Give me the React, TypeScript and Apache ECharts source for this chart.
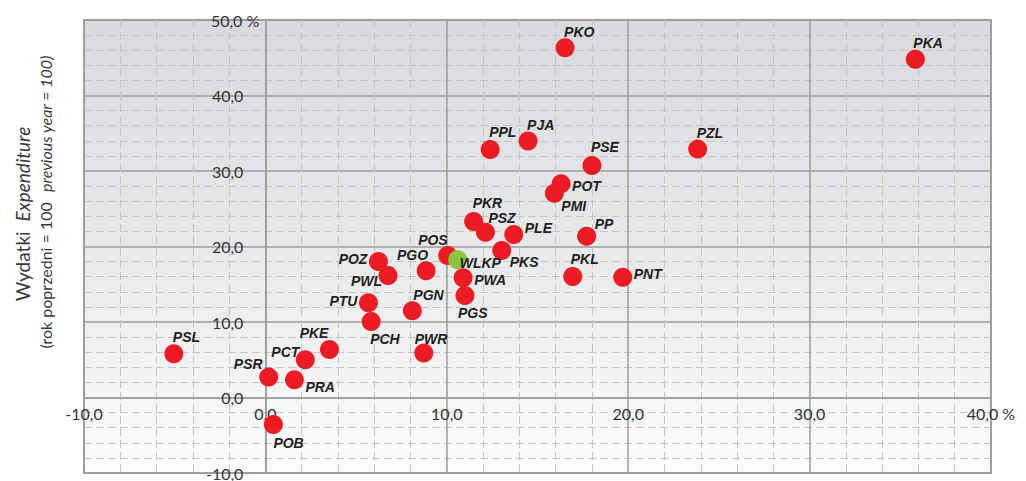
import React, { useEffect, useRef } from "react";
import * as echarts from "echarts";

// Region codes (red points)
const regionNames = [
  "PSL", "PSR", "PRA", "PCT", "PKE", "POB", "PCH", "PTU", "POZ", "PWL",
  "PGO", "PGN", "PWR", "POS", "PWA", "PGS", "PKR", "PSZ", "PLE", "PKS",
  "POT", "PMI", "PSE", "PP", "PKL", "PNT", "PPL", "PJA", "PKO", "PZL", "PKA",
];
// Revenue change (x, %)
const regionX = [
  -5.05, 0.18, 1.6, 2.2, 3.53, 0.44, 5.83, 5.68, 6.23, 6.76,
  8.86, 8.1, 8.73, 10.05, 10.9, 11.0, 11.48, 12.13, 13.69, 13.03,
  16.3, 15.93, 18.0, 17.71, 16.94, 19.7, 12.39, 14.48, 16.52, 23.83, 35.83,
];
// Expenditure change (y, %)
const regionY = [
  5.8, 2.7, 2.35, 5.0, 6.36, -3.58, 10.07, 12.54, 18.0, 16.16,
  16.8, 11.5, 5.9, 18.8, 15.85, 13.5, 23.3, 21.9, 21.6, 19.47,
  28.3, 27.06, 30.73, 21.36, 16.03, 15.93, 32.85, 33.97, 46.33, 32.9, 44.8,
];
// Voivodeship (green point)
const totalName = "WLKP";
const totalX = 10.6;
const totalY = 18.24;

const xTicks = { min: -10, max: 40, interval: 10 };
const yTicks = { min: -10, max: 50, interval: 10 };

// label placement: [align, dx, dy] relative to point centre
const labelPlacement: Record<string, [string, number, number]> = {
  PSL: ["left", -1, -17], PSR: ["right", -6, -13], PRA: ["left", 11, 7],
  PCT: ["right", -6, -8], PKE: ["right", -1, -16], POB: ["left", 0, 18],
  PCH: ["left", -1, 18], PTU: ["right", -11, -2], POZ: ["right", -11, -3],
  PWL: ["right", -6, 6], PGO: ["right", 2, -16], PGN: ["left", 1, -16],
  PWR: ["left", -9, -14], POS: ["right", 0, -16], WLKP: ["left", 2, 3],
  PWA: ["left", 11, 2], PGS: ["left", -7, 17], PKR: ["left", -1, -19],
  PSZ: ["left", 3, -14], PLE: ["left", 11, -6], PKS: ["left", 8, 11],
  POT: ["left", 11, 2], PMI: ["left", 7, 13], PSE: ["left", -1, -18],
  PP: ["left", 8, -12], PKL: ["left", -2, -17], PNT: ["left", 11, -3],
  PPL: ["left", -1, -17], PJA: ["left", -1, -16], PKO: ["left", -1, -16],
  PZL: ["left", -1, -16], PKA: ["left", -2, -16],
};

const W = 1026;
const H = 481;
const GRID = { left: 84, right: 35, top: 20, bottom: 8 };
const gridW = W - GRID.left - GRID.right;
const gridH = H - GRID.top - GRID.bottom;
// axes cross at zero
const yAxisOffset = -((0 - xTicks.min) / (xTicks.max - xTicks.min)) * gridW;
const xAxisOffset = -((0 - yTicks.min) / (yTicks.max - yTicks.min)) * gridH;

const AXIS_FONT = "Lato, 'DejaVu Sans', sans-serif";
const LABEL_FONT = "'Liberation Sans', Arial, sans-serif";

function fmt(v: number) {
  return v.toFixed(1).replace(".", ",");
}

function pointLabel(name: string) {
  const p = labelPlacement[name] || ["left", 10, 0];
  return {
    show: true,
    formatter: name,
    position: "inside",
    align: p[0],
    verticalAlign: "middle",
    offset: [p[1], p[2]],
    fontFamily: LABEL_FONT,
    fontSize: 14,
    fontWeight: "bold",
    fontStyle: "italic",
    color: "#231f20",
  };
}

export default function App() {
  const ref = useRef<HTMLDivElement>(null);

  useEffect(() => {
    if (!ref.current) return;
    const chart = echarts.init(ref.current, null, { renderer: "svg" });

    const redData = regionNames.map((n, i) => ({
      name: n,
      value: [regionX[i], regionY[i]],
      label: pointLabel(n),
    }));
    const greenData = [
      { name: totalName, value: [totalX, totalY], label: pointLabel(totalName) },
    ];

    const majorLine = { show: true, lineStyle: { color: "#9c9d9f", width: 1.5 } };
    const minorLine = {
      show: true,
      lineStyle: { color: "#c4c5c7", width: 1, type: [8, 4] },
    };
    const axisText = { fontFamily: AXIS_FONT, fontSize: 16, color: "#333333" };

    chart.setOption({
      animation: false,
      backgroundColor: "#ffffff",
      grid: {
        left: GRID.left,
        right: GRID.right,
        top: GRID.top,
        bottom: GRID.bottom,
        show: true,
        borderColor: "#a2a3a5",
        borderWidth: 2,
        backgroundColor: new echarts.graphic.LinearGradient(0, 0, 0, 1, [
          { offset: 0, color: "#d9dadd" },
          { offset: 0.5, color: "#e8e9eb" },
          { offset: 1, color: "#fbfbfb" },
        ]),
      },
      xAxis: {
        type: "value",
        position: "bottom",
        offset: xAxisOffset,
        min: xTicks.min,
        max: xTicks.max,
        interval: xTicks.interval,
        axisLine: { show: true, onZero: false, lineStyle: { color: "#9c9d9f", width: 1.5 } },
        axisTick: { show: false },
        splitLine: majorLine,
        minorTick: { show: false, splitNumber: 5 },
        minorSplitLine: minorLine,
        axisLabel: {
          margin: 8,
          ...axisText,
          formatter: (v: number) => (v === xTicks.max ? fmt(v) + " %" : fmt(v)),
        },
      },
      yAxis: {
        type: "value",
        position: "left",
        offset: yAxisOffset,
        min: yTicks.min,
        max: yTicks.max,
        interval: yTicks.interval,
        axisLine: { show: true, onZero: false, lineStyle: { color: "#9c9d9f", width: 1.5 } },
        axisTick: { show: false },
        splitLine: majorLine,
        minorTick: { show: false, splitNumber: 5 },
        minorSplitLine: minorLine,
        axisLabel: {
          margin: 22,
          ...axisText,
          formatter: (v: number) =>
            v === yTicks.max ? "{n|" + fmt(v) + "}{p| %}" : fmt(v),
          rich: {
            n: { ...axisText, align: "left" },
            p: { ...axisText, align: "left", width: 1 },
          },
        },
      },
      graphic: [
        {
          type: "text",
          x: 22,
          y: 214,
          rotation: Math.PI / 2,
          style: {
            text: "{a|Wydatki}   {b|Expenditure}",
            align: "center",
            verticalAlign: "middle",
            rich: {
              a: { fontFamily: AXIS_FONT, fontSize: 19, fill: "#3a3a3a" },
              b: { fontFamily: AXIS_FONT, fontSize: 19, fontStyle: "italic", fill: "#3a3a3a" },
            },
          },
        },
        {
          type: "text",
          x: 45,
          y: 202,
          rotation: Math.PI / 2,
          style: {
            text: "{a|(rok poprzedni = 100}   {b|previous year = 100)}",
            align: "center",
            verticalAlign: "middle",
            rich: {
              a: { fontFamily: AXIS_FONT, fontSize: 16, fill: "#3a3a3a" },
              b: { fontFamily: AXIS_FONT, fontSize: 16, fontStyle: "italic", fill: "#3a3a3a" },
            },
          },
        },
      ],
      series: [
        {
          type: "scatter",
          symbol: "circle",
          symbolSize: 19,
          itemStyle: { color: "#ed1c24", opacity: 1 },
          data: redData,
          z: 3,
        },
        {
          type: "scatter",
          symbol: "circle",
          symbolSize: 19,
          itemStyle: { color: "#8cc63f", opacity: 1 },
          data: greenData,
          z: 4,
        },
      ],
    });

    return () => chart.dispose();
  }, []);

  return (
    <div
      ref={ref}
      style={{ position: "fixed", left: 0, top: 0, width: W, height: H }}
    />
  );
}
